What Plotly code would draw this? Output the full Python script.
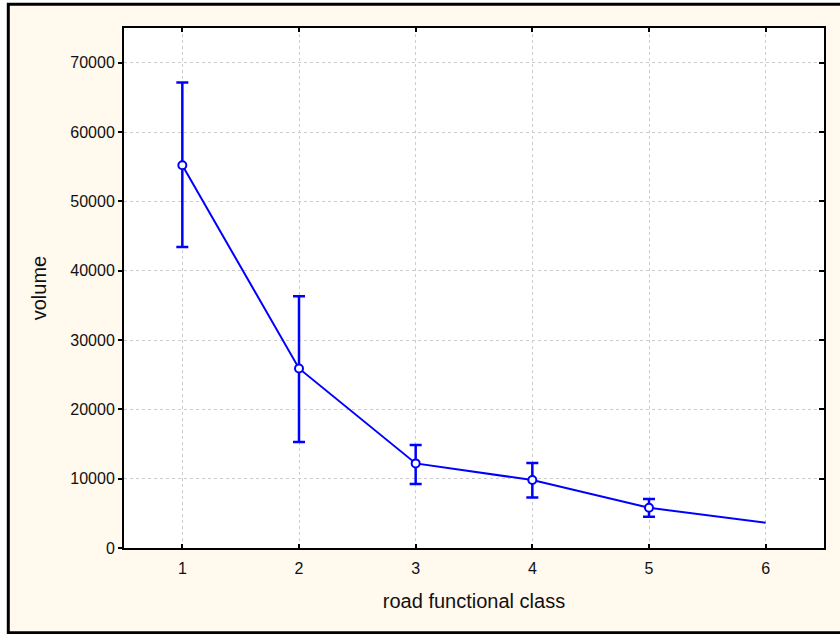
import plotly.graph_objects as go

road_class = [1, 2, 3, 4, 5, 6]
volume_mean = [55200, 25900, 12200, 9800, 5800, 3650]
volume_upper = [67150, 36300, 14850, 12250, 7060, None]
volume_lower = [43400, 15300, 9220, 7300, 4520, None]

x_ticks = [1, 2, 3, 4, 5, 6]
y_ticks = [0, 10000, 20000, 30000, 40000, 50000, 60000, 70000]

BLUE = "#0000ff"
CREAM = "#fff9ee"

err_x = [x for x, u in zip(road_class, volume_upper) if u is not None]
err_y = [m for m, u in zip(volume_mean, volume_upper) if u is not None]
err_plus = [u - m for m, u in zip(volume_mean, volume_upper) if u is not None]
err_minus = [m - l for m, l in zip(volume_mean, volume_lower) if l is not None]

fig = go.Figure()
fig.add_trace(go.Scatter(x=road_class, y=volume_mean, mode="lines",
                         line=dict(color=BLUE, width=2), showlegend=False,
                         hoverinfo="skip"))
fig.add_trace(go.Scatter(x=err_x, y=err_y, mode="markers",
                         marker=dict(symbol="circle", size=8, color="white",
                                     line=dict(color=BLUE, width=2)),
                         error_y=dict(type="data", symmetric=False, array=err_plus,
                                      arrayminus=err_minus, color=BLUE,
                                      thickness=2.5, width=6),
                         showlegend=False))
# invisible trace to activate the right-hand axis
fig.add_trace(go.Scatter(x=[1], y=[0], yaxis="y2", mode="markers",
                         marker=dict(opacity=0), showlegend=False, hoverinfo="skip"))

W, H = 840, 634
L, R, T, B = 124, 16, 28, 86
pw, ph = W - L - R, H - T - B

def px_x(p):
    return (p - L) / pw

def px_y(p):
    return (H - B - p) / ph

# outer cream frame
fig.add_shape(type="rect", xref="paper", yref="paper",
              x0=px_x(8.3), x1=px_x(870), y0=px_y(632.8), y1=px_y(4.2),
              line=dict(color="black", width=3), fillcolor=CREAM, layer="below")
# white plot area
fig.add_shape(type="rect", xref="paper", yref="paper", x0=0, x1=1, y0=0, y1=1,
              line=dict(width=0), fillcolor="white", layer="below")

font = dict(family="Liberation Sans, Arial, sans-serif", size=16, color="#111111")

fig.update_layout(
    width=W, height=H,
    margin=dict(l=L, r=R, t=T, b=B),
    paper_bgcolor="white",
    plot_bgcolor="rgba(0,0,0,0)",
    font=font,
    xaxis=dict(range=[0.5, 6.5], tickvals=x_ticks, ticks="inside", ticklen=4,
               tickwidth=2, tickcolor="black", showline=True, linecolor="black",
               linewidth=2, mirror="ticks", showgrid=True, gridcolor="#cccccc",
               griddash="dot", gridwidth=1, zeroline=False, ticklabelstandoff=5,
               title=dict(text="road functional class", font=dict(size=20), standoff=18)),
    yaxis=dict(range=[0, 75000], tickvals=y_ticks, tickformat="d", ticks="outside",
               ticklen=4, tickwidth=2, tickcolor="black", showline=True,
               linecolor="black", linewidth=2, showgrid=True, gridcolor="#cccccc",
               griddash="dot", gridwidth=1, zeroline=False,
               title=dict(text="volume", font=dict(size=20), standoff=18)),
    yaxis2=dict(range=[0, 75000], tickvals=y_ticks, overlaying="y", side="right",
                ticks="inside", ticklen=5, tickwidth=2, tickcolor="black",
                showticklabels=False, showline=True, linecolor="black", linewidth=2,
                showgrid=False, zeroline=False),
)

fig.write_html("out.html", config={"displayModeBar": False},
               post_script="document.body.style.margin='0px';")
